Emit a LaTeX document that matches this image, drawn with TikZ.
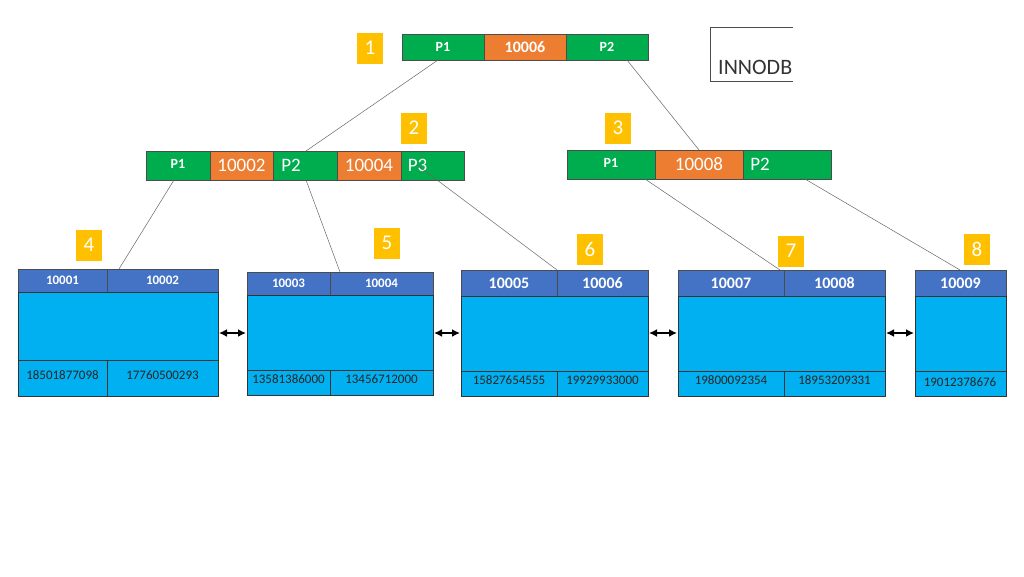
\documentclass[tikz,border=0pt]{standalone}
\usepackage{fontspec}
\setmainfont{Carlito}
\usetikzlibrary{arrows.meta}
\definecolor{gr}{HTML}{00AD4E}
\definecolor{og}{HTML}{ED7D31}
\definecolor{hd}{HTML}{4472C4}
\definecolor{bd}{HTML}{00B0F0}
\definecolor{yl}{HTML}{FFC000}
\newcommand{\fsz}[1]{\fontsize{#1}{#1}\selectfont}
\begin{document}
\begin{tikzpicture}[x=1pt,y=-1pt,
 cell/.style={draw=black!70,line width=0.6pt,text=white,font=\bfseries\fsz{14}},
 num/.style={fill=yl,minimum width=26pt,minimum height=31pt,text=white,font=\fsz{21},inner sep=0pt},
 link/.style={draw=black!60,line width=0.5pt},
 dbl/.style={{Latex[length=8pt,width=8pt]}-{Latex[length=8pt,width=8pt]},line width=2pt},
 lbl/.style={font=\fsz{13},text=black!85}]
\useasboundingbox (0,0) rectangle (1024,576);
% root
\path[cell,fill=gr] (402,34) rectangle (484,60) node[midway] {P1};
\path[cell,fill=og] (484,34) rectangle (566,60) node[midway,font=\bfseries\fsz{16}] {10006};
\path[cell,fill=gr] (566,34) rectangle (648,60) node[midway] {P2};
\coordinate (r1) at (438,60); \coordinate (r2) at (627,60);
% node2
\path[cell,fill=gr] (146,151) rectangle (210,180) node[midway,yshift=2pt] {P1};
\path[cell,fill=og] (210,151) rectangle (273,180) node[midway,font=\fsz{19}] {10002};
\path[cell,fill=gr] (273,151) rectangle (337,180) node[midway,xshift=-14pt,font=\fsz{19}] {P2};
\path[cell,fill=og] (337,151) rectangle (401,180) node[midway,font=\fsz{19}] {10004};
\path[cell,fill=gr] (401,151) rectangle (464,180) node[midway,xshift=-15pt,font=\fsz{19}] {P3};
\coordinate (a1) at (306,151); \coordinate (a2) at (174,180); \coordinate (a3) at (306,180); \coordinate (a4) at (417,165);
% node3
\path[cell,fill=gr] (567,150) rectangle (655,179) node[midway,yshift=2pt] {P1};
\path[cell,fill=og] (655,150) rectangle (743,179) node[midway,font=\fsz{19}] {10008};
\path[cell,fill=gr] (743,150) rectangle (831,179) node[midway,xshift=-27pt,font=\fsz{19}] {P2};
\coordinate (b0) at (699,150); \coordinate (b1) at (645,179); \coordinate (b2) at (805,179);
% leaves
\foreach \xa/\xm/\xb/\ya/\yh/\yc/\yb/\ka/\kb/\pa/\pb/\fs in {
 18/107/218/269/292/360/396/10001/10002/18501877098/17760500293/13,
 247/330/433/272/295/370/395/10003/10004/13581386000/13456712000/13,
 461/557/648/270/296/371/396/10005/10006/15827654555/19929933000/16,
 678/784/885/270/296/371/396/10007/10008/19800092354/18953209331/16}{
 \fill[bd] (\xa,\yh) rectangle (\xb,\yb);
 \path[cell,fill=hd] (\xa,\ya) rectangle (\xm,\yh) node[midway,font=\bfseries\fsz{\fs}] {\ka};
 \path[cell,fill=hd] (\xm,\ya) rectangle (\xb,\yh) node[midway,font=\bfseries\fsz{\fs}] {\kb};
 \draw[black!80,line width=0.6pt] (\xa,\yh) rectangle (\xb,\yb) (\xa,\yc) -- (\xb,\yc) (\xm,\yc) -- (\xm,\yb);
 \node[lbl] at ({(\xa+\xm)/2},{(\yc+\yb)/2-3}) {\pa};
 \node[lbl] at ({(\xm+\xb)/2},{(\yc+\yb)/2-3}) {\pb};
}
\fill[bd] (915,296) rectangle (1006,396);
\path[cell,fill=hd] (915,270) rectangle (1006,296) node[midway,font=\bfseries\fsz{16}] {10009};
\draw[black!80,line width=0.6pt] (915,296) rectangle (1006,396) (915,371) -- (1006,371);
\node[lbl] at (960,382) {19012378676};
\coordinate (l4) at (119,269); \coordinate (l5) at (340,272); \coordinate (l6) at (557,270);
\coordinate (l7) at (780,270); \coordinate (l8) at (960,270);
% links
\draw[link] (r1) -- (a1); \draw[link] (r2) -- (b0);
\draw[link] (a2) -- (l4); \draw[link] (a3) -- (l5); \draw[link] (a4) -- (l6);
\draw[link] (b1) -- (l7); \draw[link] (b2) -- (l8);
% arrows
\coordinate (e1) at (219,333); \coordinate (f1) at (246,333);
\coordinate (e2) at (434,333); \coordinate (f2) at (460,333);
\coordinate (e3) at (649,333); \coordinate (f3) at (677,333);
\coordinate (e4) at (886,333); \coordinate (f4) at (914,333);
\draw[dbl] (e1) -- (f1); \draw[dbl] (e2) -- (f2); \draw[dbl] (e3) -- (f3); \draw[dbl] (e4) -- (f4);
% numbers
\node[num] (n1) at (370,48) {1};
\node[num] (n2) at (414,128) {2};
\node[num] (n3) at (618,128) {3};
\node[num] (n4) at (89,245) {4};
\node[num] (n5) at (387,243) {5};
\node[num] (n6) at (590,249) {6};
\node[num] (n7) at (791,251) {7};
\node[num] (n8) at (977,249) {8};
% INNODB
\draw[black!70,line width=0.6pt] (793,27) -- (710,27) -- (710,81) -- (793,81);
\node[anchor=west,inner sep=0pt,font=\fsz{22},text=black!80] (inn) at (718,67) {INNODB};
\end{tikzpicture}
\end{document}
